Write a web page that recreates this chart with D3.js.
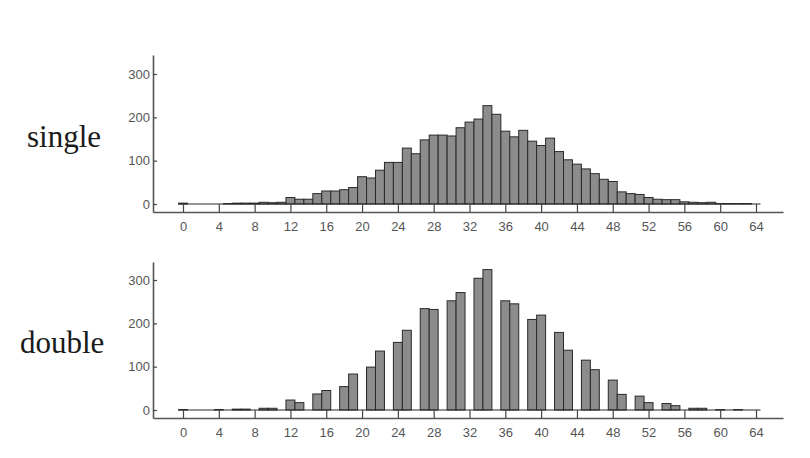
<!DOCTYPE html>
<html lang="en">
<head>
  <meta charset="UTF-8" />
  <title>single vs double histogram</title>
  <script src="https://d3js.org/d3.v7.min.js"></script>
  <style>
    body { margin: 0; background: #fff; }
    svg { display: block; }
    .tick text { font-family: Arial, "Liberation Sans", sans-serif; font-size: 13px; fill: #555; }
    .panel-label { font-family: "Liberation Serif", "DejaVu Serif", serif; font-size: 31px; fill: #1a1a1a; }
  </style>
</head>
<body>
  <svg id="chart"></svg>
  <script>
    // bins 0..64
    const bins = d3.range(0, 65);
    const xTicks = d3.range(0, 65, 4);
    const yTicks = [0, 100, 200, 300];

    const singleCounts = [
      2, 0, 0, 0, 0, 1, 2, 2, 2, 4, 3, 4, 15, 11, 11, 24, 30, 30, 33, 38,
      63, 60, 78, 96, 96, 129, 116, 148, 159, 159, 157, 176, 189, 196, 227, 207, 168, 155, 170, 145,
      135, 152, 121, 102, 92, 81, 70, 57, 52, 28, 24, 22, 15, 11, 10, 10, 5, 4, 3, 4,
      1, 1, 1, 1, 0
    ];
    const doubleCounts = [
      1, 0, 0, 0, 1, 0, 2, 2, 0, 4, 4, 0, 23, 17, 0, 37, 45, 0, 54, 83,
      0, 99, 136, 0, 156, 184, 0, 234, 232, 0, 252, 271, 0, 304, 324, 0, 252, 245, 0, 209,
      219, 0, 179, 138, 0, 115, 93, 0, 69, 36, 0, 32, 17, 0, 15, 10, 0, 4, 4, 0,
      1, 0, 1, 0, 0
    ];

    const W = 810, H = 458;
    const svg = d3.select("#chart").attr("width", W).attr("height", H);

    const axisLeftX = 153, axisRightX = 783;
    // x(0) = 183, x(64) = 756
    const pxPerBin = (756 - 183) / 64;
    const x = d3.scaleLinear()
      .domain([(axisLeftX - 183) / pxPerBin, (axisRightX - 183) / pxPerBin])
      .range([axisLeftX, axisRightX]);

    const pxPerCount = 130 / 300;

    function drawPanel(counts, axisTop, zeroY, axisBottom, label, labelX, labelY) {
      const y = d3.scaleLinear()
        .domain([-(axisBottom - zeroY) / pxPerCount, (zeroY - axisTop) / pxPerCount])
        .range([axisBottom, axisTop]);

      const g = svg.append("g");

      // bars
      g.selectAll("rect.bar")
        .data(bins.filter(b => counts[b] > 0))
        .enter()
        .append("rect")
          .attr("class", "bar")
          .attr("x", b => x(b - 0.5))
          .attr("width", x(1) - x(0))
          .attr("y", b => y(counts[b]))
          .attr("height", b => y(0) - y(counts[b]))
          .attr("fill", "#8c8c8c")
          .attr("stroke", "#2a2a2a")
          .attr("stroke-width", 1);

      // baseline at zero
      g.append("line")
        .attr("x1", x(-0.5)).attr("x2", x(64.5))
        .attr("y1", y(0)).attr("y2", y(0))
        .attr("stroke", "#2a2a2a")
        .attr("stroke-width", 1.2);

      // x axis, ticks pointing inward
      const xAxis = g.append("g")
        .attr("transform", `translate(0,${axisBottom})`)
        .call(d3.axisBottom(x).tickValues(xTicks).tickSize(-8).tickSizeOuter(0).tickPadding(10));
      xAxis.select(".domain").attr("stroke", "#555").attr("stroke-width", 1.6);
      xAxis.selectAll(".tick line").attr("stroke", "#444").attr("stroke-width", 1.2);

      // y axis, ticks pointing inward
      const yAxis = g.append("g")
        .attr("transform", `translate(${axisLeftX},0)`)
        .call(d3.axisLeft(y).tickValues(yTicks).tickSize(-4).tickSizeOuter(0).tickPadding(3));
      yAxis.select(".domain").attr("stroke", "#555").attr("stroke-width", 1.6);
      yAxis.selectAll(".tick line").attr("stroke", "#444").attr("stroke-width", 1.2);

      svg.append("text")
        .attr("class", "panel-label")
        .attr("x", labelX)
        .attr("y", labelY)
        .text(label);
    }

    drawPanel(singleCounts, 55, 204, 212, "single", 27, 147);
    drawPanel(doubleCounts, 262, 410, 418, "double", 20, 353);
  </script>
</body>
</html>
